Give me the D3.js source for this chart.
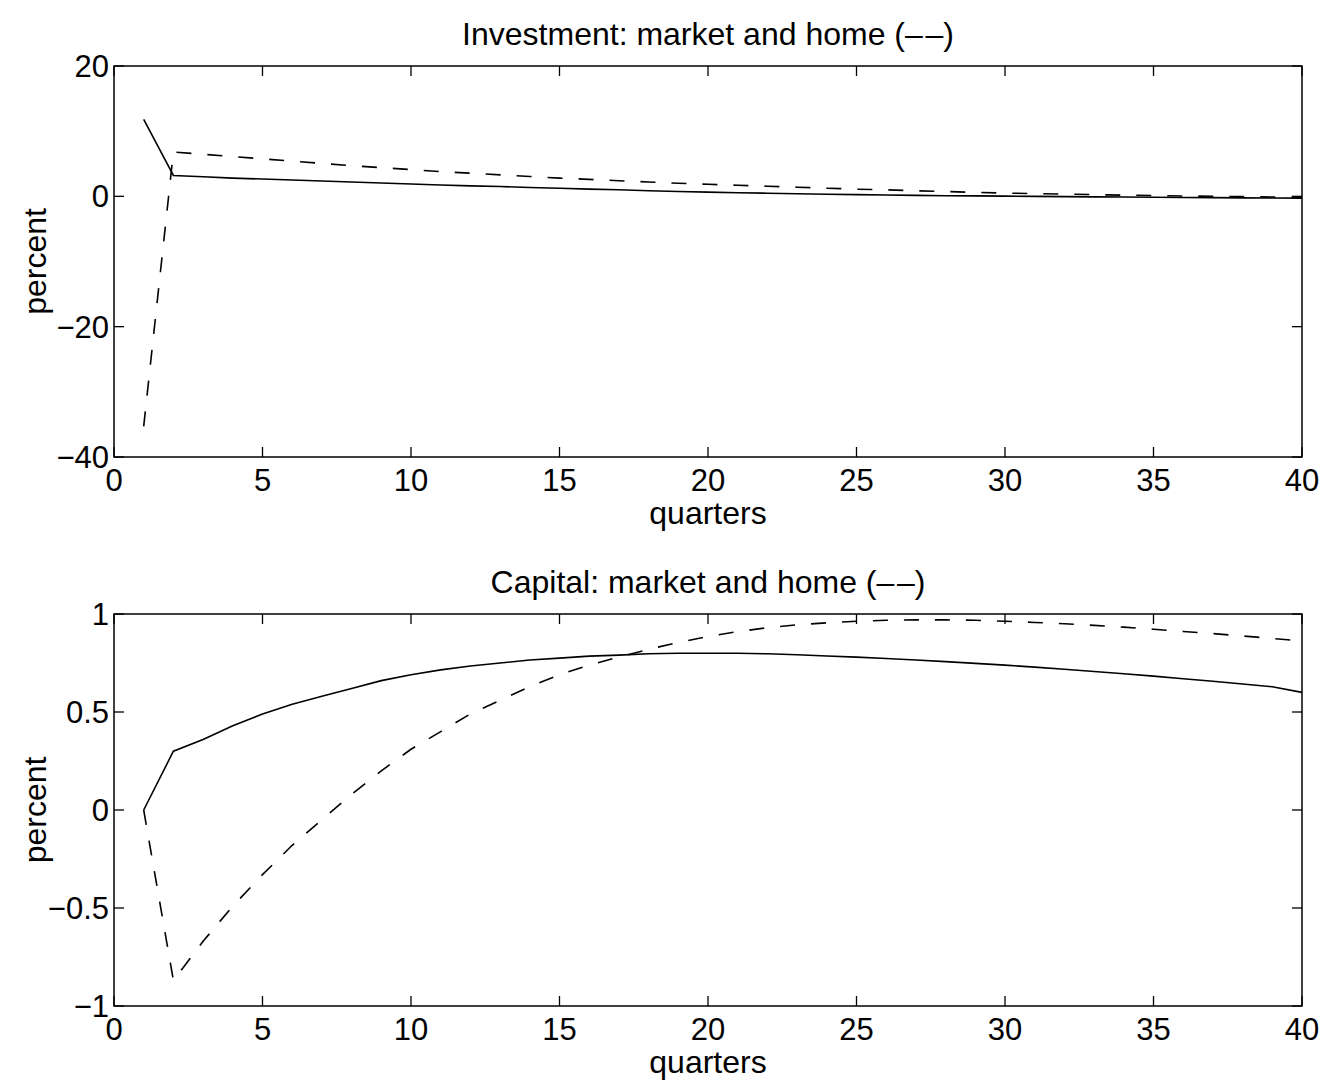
<!DOCTYPE html>
<html>
<head>
<meta charset="utf-8">
<script src="https://cdn.jsdelivr.net/npm/d3@7"></script>
<style>
  body { margin: 0; background: #fff; }
  svg text { font-family: "Liberation Sans", Arial, sans-serif; fill: #000; }
</style>
</head>
<body>
<svg id="chart" width="1323" height="1089"></svg>
<script>
// quarters 1..40
var quarters = d3.range(1, 41);

// investment, percent
var invMarket = [11.8, 3.2, 3.0, 2.8, 2.65, 2.5, 2.35, 2.2, 2.05, 1.9,
                 1.75, 1.6, 1.5, 1.35, 1.25, 1.1, 1.0, 0.85, 0.75, 0.65,
                 0.55, 0.48, 0.4, 0.33, 0.26, 0.2, 0.15, 0.1, 0.07, 0.03,
                 0.0, -0.04, -0.08, -0.11, -0.14, -0.17, -0.2, -0.23, -0.26, -0.28];
var invHome = [-35.3, 6.8, 6.45, 6.1, 5.75, 5.4, 5.05, 4.7, 4.4, 4.1,
               3.8, 3.55, 3.3, 3.05, 2.8, 2.6, 2.4, 2.2, 2.0, 1.85,
               1.7, 1.55, 1.4, 1.25, 1.1, 1.0, 0.85, 0.75, 0.6, 0.5,
               0.42, 0.34, 0.26, 0.18, 0.12, 0.06, 0.0, -0.05, -0.1, -0.15];

// capital, percent
var capMarket = [0, 0.30, 0.36, 0.43, 0.49, 0.54, 0.58, 0.62, 0.66, 0.69,
                 0.715, 0.735, 0.75, 0.765, 0.775, 0.785, 0.79, 0.797, 0.80, 0.80,
                 0.80, 0.797, 0.792, 0.786, 0.78, 0.773, 0.765, 0.757, 0.748, 0.739,
                 0.729, 0.718, 0.707, 0.695, 0.683, 0.67, 0.657, 0.643, 0.629, 0.6];
var capHome = [0, -0.87, -0.67, -0.49, -0.33, -0.18, -0.05, 0.08, 0.2, 0.31,
               0.4, 0.49, 0.56, 0.63, 0.69, 0.74, 0.78, 0.82, 0.855, 0.885,
               0.91, 0.93, 0.945, 0.955, 0.963, 0.968, 0.97, 0.97, 0.968, 0.963,
               0.957, 0.95, 0.942, 0.933, 0.922, 0.911, 0.90, 0.888, 0.875, 0.862];

var xTicks = [0, 5, 10, 15, 20, 25, 30, 35, 40];
var xTickLabels = ["0", "5", "10", "15", "20", "25", "30", "35", "40"];
var invTicks = [-40, -20, 0, 20];
var invTickLabels = ["\u221240", "\u221220", "0", "20"];
var capTicks = [-1, -0.5, 0, 0.5, 1];
var capTickLabels = ["\u22121", "\u22120.5", "0", "0.5", "1"];

var svg = d3.select("#chart");
var left = 114, right = 1302;
var fs = "32px";

/**
 * draw one panel
 */
function drawPanel(cfg){
    var g = svg.append("g");
    var x = d3.scaleLinear().domain([0, 40]).range([left, right]);
    var y = d3.scaleLinear().domain(cfg.domain).range([cfg.bottom, cfg.top]);

    // frame
    g.append("rect")
        .attr("x", left).attr("y", cfg.top)
        .attr("width", right - left).attr("height", cfg.bottom - cfg.top)
        .attr("fill", "none").attr("stroke", "#000").attr("stroke-width", 1.5);

    // ticks, inward on all four sides
    var tl = 10;
    xTicks.forEach(function(t, i){
        g.append("line").attr("x1", x(t)).attr("x2", x(t))
            .attr("y1", cfg.bottom).attr("y2", cfg.bottom - tl)
            .attr("stroke", "#000").attr("stroke-width", 1.3);
        g.append("line").attr("x1", x(t)).attr("x2", x(t))
            .attr("y1", cfg.top).attr("y2", cfg.top + tl)
            .attr("stroke", "#000").attr("stroke-width", 1.3);
        g.append("text").attr("x", x(t)).attr("y", cfg.bottom + 34)
            .attr("text-anchor", "middle").style("font-size", "31px")
            .text(xTickLabels[i]);
    });
    cfg.ticks.forEach(function(t, i){
        g.append("line").attr("x1", left).attr("x2", left + tl)
            .attr("y1", y(t)).attr("y2", y(t))
            .attr("stroke", "#000").attr("stroke-width", 1.3);
        g.append("line").attr("x1", right).attr("x2", right - tl)
            .attr("y1", y(t)).attr("y2", y(t))
            .attr("stroke", "#000").attr("stroke-width", 1.3);
        g.append("text").attr("x", left - 5).attr("y", y(t) + 11)
            .attr("text-anchor", "end").style("font-size", "31px")
            .text(cfg.tickLabels[i]);
    });

    var line = d3.line()
        .x(function(d, i){ return x(quarters[i]); })
        .y(function(d){ return y(d); });

    g.append("path").datum(cfg.solid)
        .attr("d", line).attr("fill", "none")
        .attr("stroke", "#000").attr("stroke-width", 1.6);
    g.append("path").datum(cfg.dashed)
        .attr("d", line).attr("fill", "none")
        .attr("stroke", "#000").attr("stroke-width", 1.6)
        .attr("stroke-dasharray", "15,16");

    // title and labels
    g.append("text").attr("x", (left + right) / 2).attr("y", cfg.top - 21)
        .attr("text-anchor", "middle").style("font-size", fs)
        .text(cfg.title);
    g.append("text").attr("x", (left + right) / 2).attr("y", cfg.bottom + 67)
        .attr("text-anchor", "middle").style("font-size", fs)
        .text("quarters");
    g.append("text")
        .attr("transform", "translate(46," + ((cfg.top + cfg.bottom) / 2) + ") rotate(-90)")
        .attr("text-anchor", "middle").style("font-size", fs)
        .text("percent");
}

drawPanel({
    top: 66, bottom: 457, domain: [-40, 20],
    ticks: invTicks, tickLabels: invTickLabels,
    solid: invMarket, dashed: invHome,
    title: "Investment: market and home (\u2013\u200a\u2013)"
});
drawPanel({
    top: 614, bottom: 1006, domain: [-1, 1],
    ticks: capTicks, tickLabels: capTickLabels,
    solid: capMarket, dashed: capHome,
    title: "Capital: market and home (\u2013\u200a\u2013)"
});
</script>
</body>
</html>
